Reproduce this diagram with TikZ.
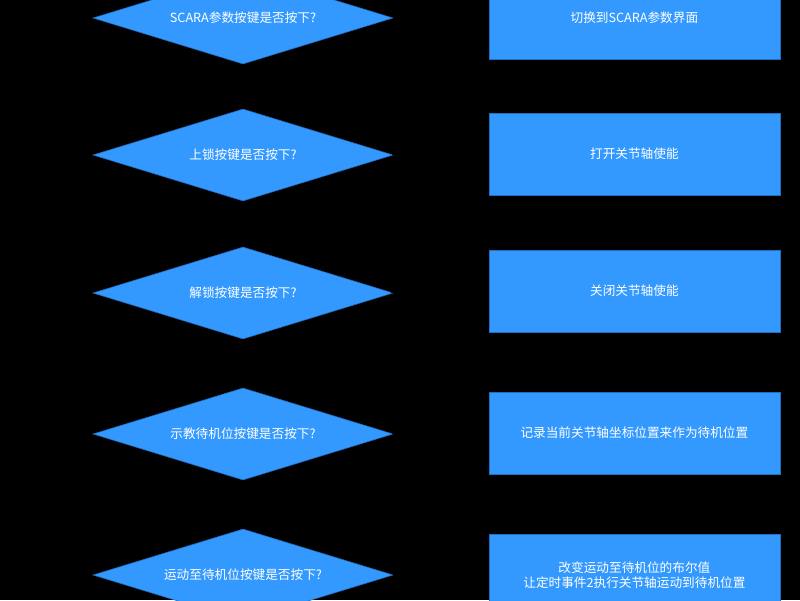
\documentclass[tikz,border=0pt]{standalone}
\usepackage{fontspec}
\setmainfont{Noto Sans CJK SC}
\usetikzlibrary{shapes.geometric}
\definecolor{flowblue}{HTML}{3399FF}
\definecolor{flowedge}{HTML}{1F6FC0}
\begin{document}
\begin{tikzpicture}
    [decision/.style={diamond, aspect=3.26, fill=flowblue, draw=flowedge, inner sep=0pt,
        minimum width=7.5cm, minimum height=2.3cm, text=white, font=\fontsize{9}{11}\selectfont},
    action/.style={rectangle, fill=flowblue, draw=flowedge, minimum width=7.275cm,
        minimum height=2.05cm, text=white, align=center, font=\fontsize{9}{11}\selectfont},
    link/.style={black, thick, ->}]

    \fill[black] (0,0) rectangle (20,15);
    \useasboundingbox (0,0) rectangle (20,15);

    \node[decision] (q1) at (6.075,14.55) {SCARA参数按键是否按下?};
    \node[decision] (q2) at (6.075,11.125) {上锁按键是否按下?};
    \node[decision] (q3) at (6.075,7.675) {解锁按键是否按下?};
    \node[decision] (q4) at (6.075,4.15) {示教待机位按键是否按下?};
    \node[decision] (q5) at (6.075,0.625) {运动至待机位按键是否按下?};

    \node[action] (a1) at (15.86,14.55) {切换到SCARA参数界面};
    \node[action] (a2) at (15.86,11.15) {打开关节轴使能};
    \node[action] (a3) at (15.86,7.725) {关闭关节轴使能};
    \node[action] (a4) at (15.86,4.175) {记录当前关节轴坐标位置来作为待机位置};
    \node[action] (a5) at (15.86,0.625) {改变运动至待机位的布尔值\\让定时事件2执行关节轴运动到待机位置};

    \foreach \i in {1,...,5}
        \draw[link] (q\i) -- (a\i);
    \foreach \i/\j in {1/2,2/3,3/4,4/5}
        \draw[link] (q\i) -- (q\j);
\end{tikzpicture}
\end{document}
